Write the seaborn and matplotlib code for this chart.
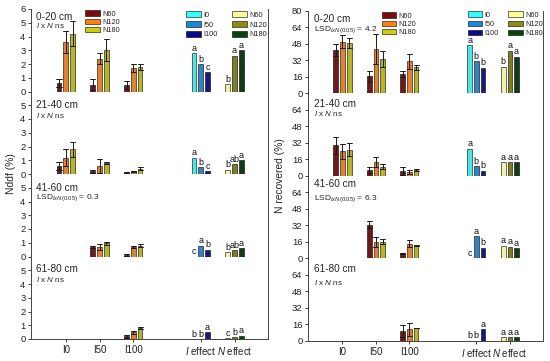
import numpy as np
import pandas as pd
import matplotlib
matplotlib.use("Agg")
import matplotlib.pyplot as plt
import seaborn as sns
from matplotlib.patches import Patch

sns.set_style("ticks")
plt.rcParams["font.family"] = ["Liberation Sans", "DejaVu Sans"]
plt.rcParams["mathtext.fontset"] = "custom"
plt.rcParams["mathtext.rm"] = "Liberation Sans"
plt.rcParams["mathtext.it"] = "Liberation Sans:italic"

nan = np.nan
depths = ["0-20 cm", "21-40 cm", "41-60 cm", "61-80 cm"]
groups = ["I0", "I50", "I100"]
n_levels = ["N60", "N120", "N180"]
i_levels = ["I0", "I50", "I100"]
order = ["I0", "I50", "I100", " ", "I effect", "N effect"]
xtick_labels = ["I0", "I50", "I100", "", r"$\it{I}$ effect", r"$\it{N}$ effect"]

# ---- Nddf (%) ----
nddf_mean = [
    [[0.6, 3.6, 4.2], [0.5, 2.4, 3.0], [0.5, 1.7, 1.8]],
    [[0.6, 1.2, 1.8], [0.2, 0.6, 0.8], [0.1, 0.2, 0.4]],
    [[nan, nan, nan], [0.7, 0.7, 0.95], [0.1, 0.7, 0.8]],
    [[nan, nan, nan], [nan, nan, nan], [0.2, 0.5, 0.8]],
]
nddf_err = [
    [[0.3, 0.8, 0.9], [0.4, 0.4, 0.8], [0.3, 0.3, 0.2]],
    [[0.3, 0.6, 0.55], [0.1, 0.5, 0.1], [0.05, 0.05, 0.1]],
    [[nan, nan, nan], [0.1, 0.2, 0.1], [0.05, 0.1, 0.1]],
    [[nan, nan, nan], [nan, nan, nan], [0.1, 0.1, 0.1]],
]
nddf_ieff = [[2.8, 2.0, 1.4], [1.2, 0.5, 0.2], [nan, 0.8, 0.5], [nan, nan, 0.5]]
nddf_ieff_letters = [["a", "b", "c"], ["a", "b", "c"], ["c", "a", "b"], ["b", "b", "a"]]
nddf_neff = [[0.55, 2.6, 3.0], [0.3, 0.7, 1.0], [0.3, 0.45, 0.6], [0.07, 0.15, 0.25]]
nddf_neff_letters = [["b", "a", "a"], ["b", "ab", "a"], ["b", "ab", "a"], ["c", "b", "a"]]
nddf_notes = ["ixn", "ixn", "LSD 0.3", "ixn"]

# ---- N recovered (%) ----
nrec_mean = [
    [[42.3, 50.3, 48.7], [16.5, 43.0, 33.5], [19.0, 31.0, 25.5]],
    [[29.6, 23.9, 25.5], [5.7, 13.7, 9.0], [4.8, 3.5, 5.7]],
    [[nan, nan, nan], [32.5, 15.8, 16.0], [4.8, 14.1, 12.5]],
    [[nan, nan, nan], [nan, nan, nan], [9.4, 11.0, 12.0]],
]
nrec_err = [
    [[5.7, 6.7, 4.8], [5.5, 14.7, 8.1], [3.0, 7.0, 2.5]],
    [[8.0, 7.3, 6.7], [2.6, 4.8, 2.5], [4.2, 2.2, 0.7]],
    [[nan, nan, nan], [3.2, 4.8, 2.6], [0.7, 3.6, 0.4]],
    [[nan, nan, nan], [nan, nan, nan], [5.6, 6.5, 0.0]],
]
nrec_ieff = [[47.0, 31.0, 25.0], [26.4, 9.2, 4.8], [nan, 21.5, 10.3], [nan, nan, 11.0]]
nrec_ieff_letters = [["a", "b", "b"], ["a", "b", "b"], ["c", "a", "b"], ["b", "b", "a"]]
nrec_neff = [[26.0, 41.3, 35.5], [13.3, 13.3, 13.3], [12.2, 11.0, 9.6], [3.2, 3.2, 3.2]]
nrec_neff_letters = [["b", "a", "a"], ["a", "a", "a"], ["a", "a", "a"], ["a", "a", "a"]]
nrec_notes = ["LSD 4.2", "ixn", "LSD 6.3", "ixn"]

pal_n = ["#7a0c0c", "#ff8010", "#cccc10"]
pal_i = ["#33ffff", "#1c86d8", "#0a0a8a"]
pal_ne = ["#ffff99", "#8c8c14", "#0a4210"]

W, H = 550, 361
fig = plt.figure(figsize=(5.5, 3.61), dpi=100)

BAR_W = 0.6
GAP = 0.3


def px_axes(left, top, w, h):
    return fig.add_axes([left / W, 1 - (top + h) / H, w / W, h / H])


def draw_panel(ax, row, mean, err, ieff, ileg, neff, nleg, ymax, ticks):
    # treatment bars with error bars (two points per bar -> min/max interval)
    recs = []
    for gi, g in enumerate(groups):
        for ni, nl in enumerate(n_levels):
            m, e = mean[row][gi][ni], err[row][gi][ni]
            if np.isnan(m):
                continue
            recs.append((g, nl, m - e))
            recs.append((g, nl, m + e))
    df = pd.DataFrame(recs, columns=["grp", "lvl", "val"])
    sns.barplot(data=df, x="grp", y="val", hue="lvl", order=order, hue_order=n_levels,
                palette=pal_n, errorbar=("pi", 100), capsize=0.45, dodge=True,
                err_kws={"color": "#1a1a1a", "linewidth": 0.7},
                width=BAR_W, gap=GAP, edgecolor="black", linewidth=0.4,
                legend=False, ax=ax)
    # I effect
    dfi = pd.DataFrame({"grp": "I effect", "lvl": i_levels, "val": ieff[row]}).dropna()
    sns.barplot(data=dfi, x="grp", y="val", hue="lvl", order=order, hue_order=i_levels,
                palette=pal_i, errorbar=None, width=BAR_W, gap=GAP, dodge=True,
                edgecolor="black", linewidth=0.4, legend=False, ax=ax)
    # N effect
    dfn = pd.DataFrame({"grp": "N effect", "lvl": n_levels, "val": neff[row]}).dropna()
    sns.barplot(data=dfn, x="grp", y="val", hue="lvl", order=order, hue_order=n_levels,
                palette=pal_ne, errorbar=None, width=BAR_W, gap=GAP, dodge=True,
                edgecolor="black", linewidth=0.4, legend=False, ax=ax)
    # letters
    step = BAR_W / 3
    for gx, vals, lets in ((order.index("I effect"), ieff[row], ileg[row]),
                           (order.index("N effect"), neff[row], nleg[row])):
        for k in range(3):
            v = vals[k]
            v = 0 if np.isnan(v) else v
            ax.annotate(lets[k], (gx + (k - 1) * step, v), xytext=(0, 0.3),
                        textcoords="offset points", ha="center", va="bottom",
                        fontsize=6.5, color="#111111")
    ax.set_ylim(0, ymax)
    ax.set_xlim(-1.03, 5.99)
    ax.set_yticks(ticks)
    ax.set_xlabel("")
    ax.set_ylabel("")
    ax.tick_params(axis="y", labelsize=6.8, length=2.5, width=0.6, pad=1.5, colors="#222222")
    for s in ("left", "right", "bottom"):
        ax.spines[s].set_visible(True)
        ax.spines[s].set_color("#444444")
        ax.spines[s].set_linewidth(0.7)
    ax.spines["top"].set_visible(False)
    if row == 3:
        ax.set_xticks([0, 1, 2, 4, 5])
        ax.set_xticklabels([xtick_labels[i] for i in [0, 1, 2, 4, 5]])
        ax.tick_params(axis="x", labelsize=7, length=2.5, width=0.6, pad=2, colors="#222222")
    else:
        ax.set_xticks([])


def note_text(ax, kind, y_frac, x_frac):
    if kind == "ixn":
        ax.text(x_frac, y_frac, r"$\it{I}$ x $\it{N}$ ns", transform=ax.transAxes,
                fontsize=5.8, va="center", ha="left")
    else:
        val = kind.split()[1]
        ax.text(x_frac, y_frac, r"LSD$_{\mathit{IxN}(0.05)}$ = " + val, transform=ax.transAxes,
                fontsize=6.0, va="center", ha="left")


def add_legend(labels, colors, x, y, spacing):
    handles = [Patch(facecolor=c, edgecolor="black", linewidth=0.4) for c in colors]
    fig.legend(handles, labels, loc="upper left", bbox_to_anchor=(x / W, 1 - y / H),
               bbox_transform=fig.transFigure, frameon=False, fontsize=5.3,
               handlelength=2.0, handleheight=0.75, handletextpad=0.35,
               labelspacing=spacing, borderpad=0, borderaxespad=0)


# left column: Nddf
L_left, L_w, L_top, L_h = 31, 237, 9, 82.5
left_text = [(8, 16.5), (14, 24), (13.7, 24), (12, 23.5)]
for r in range(4):
    ax = px_axes(L_left, L_top + L_h * r, L_w, L_h)
    ticks = list(range(0, 7)) if r == 0 else list(range(0, 6))
    draw_panel(ax, r, nddf_mean, nddf_err, nddf_ieff, nddf_ieff_letters,
               nddf_neff, nddf_neff_letters, 6, ticks)
    t1, t2 = left_text[r]
    ax.text(5 / L_w, 1 - t1 / L_h, depths[r], transform=ax.transAxes, fontsize=7.2,
            va="center", ha="left")
    note_text(ax, nddf_notes[r], 1 - t2 / L_h, 5 / L_w)

add_legend(n_levels, pal_n, 85, 10.5, 0.12)
add_legend(i_levels, pal_i, 186, 11.5, 0.35)
add_legend(n_levels, pal_ne, 232, 11.5, 0.35)

# right column: N recovered
R_left, R_w, R_top, R_h = 308, 235, 11, 82.4
right_text = [(8.5, 18.5), (10.5, 20.5), (8.3, 23), (10.7, 24.7)]
for r in range(4):
    ax = px_axes(R_left, R_top + R_h * r, R_w, R_h)
    ticks = [0, 16, 32, 48, 64, 80] if r == 0 else [0, 16, 32, 48, 64]
    draw_panel(ax, r, nrec_mean, nrec_err, nrec_ieff, nrec_ieff_letters,
               nrec_neff, nrec_neff_letters, 80, ticks)
    t1, t2 = right_text[r]
    ax.text(6 / R_w, 1 - t1 / R_h, depths[r], transform=ax.transAxes, fontsize=7.2,
            va="center", ha="left")
    note_text(ax, nrec_notes[r], 1 - t2 / R_h, 6 / R_w)

add_legend(n_levels, pal_n, 381.5, 12.5, 0.12)
add_legend(i_levels, pal_i, 467.5, 11.5, 0.25)
add_legend(n_levels, pal_ne, 508, 11.5, 0.25)

fig.text(11 / W, 1 - 174 / H, "Nddf (%)", rotation=90, va="center", ha="center", fontsize=7.4)
fig.text(280 / W, 1 - 176 / H, "N recovered (%)", rotation=90, va="center", ha="center", fontsize=7.4)

fig.savefig("out.png", dpi=100)
